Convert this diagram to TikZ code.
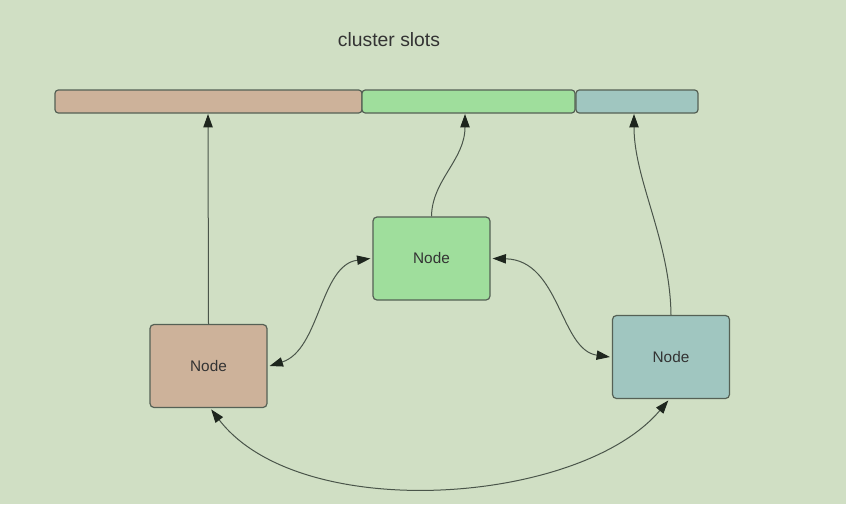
\documentclass[tikz,border=0pt]{standalone}
\usepackage{fontspec}
\setmainfont{Liberation Sans}
\usetikzlibrary{arrows.meta}
\definecolor{bg}{HTML}{D0DFC4}
\definecolor{cbrown}{HTML}{CDB29A}
\definecolor{cgreen}{HTML}{9FDE9C}
\definecolor{cblue}{HTML}{A0C6C0}
\definecolor{edge}{HTML}{556155}
\definecolor{line}{HTML}{4A554A}
\definecolor{tip}{HTML}{1E261E}
\definecolor{txt}{HTML}{333333}
\begin{document}
\begin{tikzpicture}[x=0.75pt,y=-0.75pt,
  bar/.style={draw=edge,line width=0.9pt,rounded corners=2.5pt},
  nodebox/.style={draw=edge,line width=0.9pt,rounded corners=3pt,minimum width=117*0.75pt,minimum height=83*0.75pt,font=\fontsize{11.5}{13}\selectfont,text=txt},
  conn/.style={draw=line,line width=0.75pt,-{Triangle[length=10pt,width=7pt,color=tip]}},
  biconn/.style={draw=line,line width=0.75pt,{Triangle[length=10pt,width=7pt,color=tip]}-{Triangle[length=10pt,width=7pt,color=tip]}}]
\fill[bg] (0,0) rectangle (846,504);
\useasboundingbox (0,0) rectangle (846,504);
\node[text=txt,font=\fontsize{14.5}{17}\selectfont] (title) at (389,40) {cluster slots};
\path[bar,fill=cbrown] (55,90) rectangle (362,113);
\path[bar,fill=cgreen] (362,90) rectangle (575,113);
\path[bar,fill=cblue] (576,90) rectangle (698,113);
\coordinate (s1) at (208,114);
\coordinate (s2) at (465,114);
\coordinate (s3) at (634,114);
\node[nodebox,fill=cbrown] (n1) at (208.5,366) {Node};
\node[nodebox,fill=cgreen] (n2) at (431.5,258.5) {Node};
\node[nodebox,fill=cblue] (n3) at (671,357) {Node};
\draw[conn] (n1.north) -- (s1);
\draw[conn] (n2.north) .. controls (432,180) and (465,160) .. (s2);
\draw[conn] (n3.north) .. controls (670,240) and (634,180) .. (s3);
\draw[biconn] ([xshift=1.5pt]n1.east) .. controls (320,350) and (320,265) .. ([xshift=-1.5pt]n2.west);
\draw[biconn] ([xshift=1.5pt]n2.east) .. controls (560,260) and (560,350) .. ([xshift=-1.5pt]n3.west);
\draw[biconn] ([yshift=-1pt,xshift=2pt]n1.south) .. controls (300,525) and (580,505) .. ([yshift=-1pt,xshift=-2pt]n3.south);
\end{tikzpicture}
\end{document}
